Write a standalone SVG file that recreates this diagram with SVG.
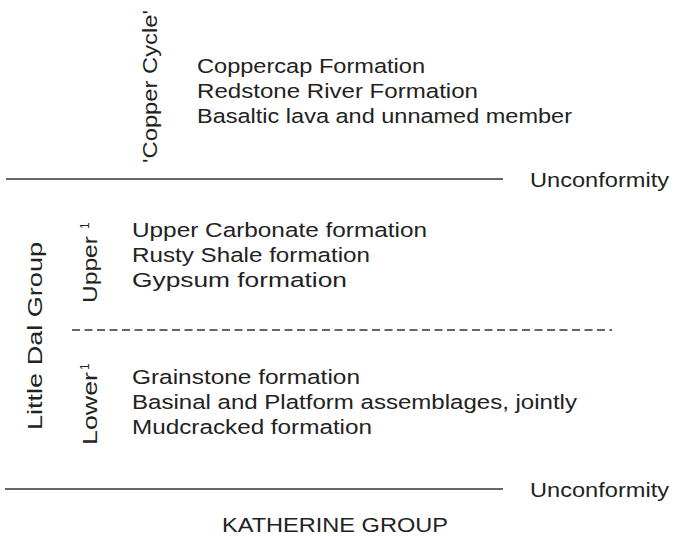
<svg xmlns="http://www.w3.org/2000/svg" width="678" height="537" viewBox="0 0 678 537">
<style>
  text { font-family: "Liberation Sans", Arial, sans-serif; font-size: 20.5px; fill: #222; }
  .sup { font-size: 12px; }
  .rule { stroke: #333; stroke-width: 1.6; fill: none; }
  .dash { stroke: #333; stroke-width: 1.6; fill: none; stroke-dasharray: 8 4.5; }
</style>
<rect width="678" height="537" fill="#fff"/>
<g id="connectors">
  <line class="rule" x1="6" y1="179" x2="503" y2="179"/>
  <line class="dash" x1="72" y1="330" x2="612" y2="330"/>
  <line class="rule" x1="5" y1="489" x2="503" y2="489"/>
</g>
<g id="copper-cycle">
  <text transform="translate(157,163) rotate(-90)" textLength="153" lengthAdjust="spacingAndGlyphs">'Copper Cycle'</text>
  <text x="197" y="73" textLength="228" lengthAdjust="spacingAndGlyphs">Coppercap Formation</text>
  <text x="197" y="98" textLength="281" lengthAdjust="spacingAndGlyphs">Redstone River Formation</text>
  <text x="197" y="123" textLength="375" lengthAdjust="spacingAndGlyphs">Basaltic lava and unnamed member</text>
</g>
<g id="unconformity-1">
  <text x="530" y="187" textLength="139" lengthAdjust="spacingAndGlyphs">Unconformity</text>
</g>
<g id="little-dal-group">
  <text transform="translate(42,430) rotate(-90)" textLength="188" lengthAdjust="spacingAndGlyphs">Little Dal Group</text>
</g>
<g id="upper">
  <text transform="translate(97,303) rotate(-90)" textLength="67" lengthAdjust="spacingAndGlyphs">Upper</text>
  <text class="sup" transform="translate(89,229) rotate(-90)">1</text>
  <text x="132" y="237" textLength="295" lengthAdjust="spacingAndGlyphs">Upper Carbonate formation</text>
  <text x="132" y="262" textLength="238" lengthAdjust="spacingAndGlyphs">Rusty Shale formation</text>
  <text x="132" y="287" textLength="215" lengthAdjust="spacingAndGlyphs">Gypsum formation</text>
</g>
<g id="lower">
  <text transform="translate(97,445) rotate(-90)" textLength="73" lengthAdjust="spacingAndGlyphs">Lower</text>
  <text class="sup" transform="translate(89,370) rotate(-90)">1</text>
  <text x="132" y="384" textLength="228" lengthAdjust="spacingAndGlyphs">Grainstone formation</text>
  <text x="132" y="409" textLength="445" lengthAdjust="spacingAndGlyphs">Basinal and Platform assemblages, jointly</text>
  <text x="132" y="434" textLength="240" lengthAdjust="spacingAndGlyphs">Mudcracked formation</text>
</g>
<g id="unconformity-2">
  <text x="530" y="497" textLength="139" lengthAdjust="spacingAndGlyphs">Unconformity</text>
</g>
<g id="katherine-group">
  <text x="222" y="532" textLength="226" lengthAdjust="spacingAndGlyphs">KATHERINE GROUP</text>
</g>
</svg>
